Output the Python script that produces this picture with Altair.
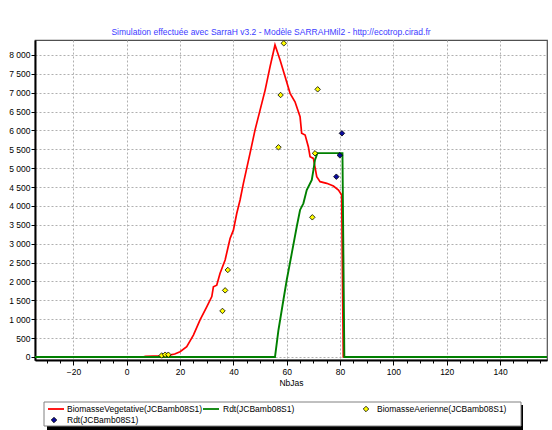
import altair as alt
import pandas as pd

# ---------------- data ----------------
title_text = "Simulation effectuée avec SarraH v3.2 - Modèle SARRAHMil2 - http://ecotrop.cirad.fr"
x_title = "NbJas"

veg_day = [-35, 6, 7, 10, 13, 16, 18, 20, 22.5, 25, 27.5, 30, 31.9, 32.5, 33.75, 35, 36.9,
           38.75, 40, 41.25, 42.5, 43.75, 46.25, 48.1, 50, 51.9, 53.75, 55.6, 57.5, 59.4,
           61.25, 63.1, 65, 65.6, 66.9, 68.1, 68.75, 70, 71.25, 72.5, 75, 77.5, 79.4, 80.6,
           81.2, 158]
veg_val = [0, 0, 20, 25, 30, 50, 80, 140, 270, 580, 980, 1330, 1600, 1860, 1900, 2220, 2570,
           3140, 3360, 3800, 4160, 4600, 5400, 6010, 6540, 7070, 7690, 8265, 7870, 7425,
           6985, 6760, 6365, 5925, 5880, 5570, 5306, 5260, 4776, 4645, 4600, 4530, 4420, 4290,
           0, 0]

rdt_day = [-35, 55.6, 56.9, 58.75, 60, 61.9, 63.75, 65, 66.25, 67.5, 69.4, 70, 70.6, 71.5,
           80.9, 81.6, 158]
rdt_val = [0, 0, 715, 1510, 2040, 2750, 3450, 3895, 4070, 4420, 4690, 4950, 5220, 5400,
           5400, 0, 0]

aer_day = [13.1, 14.4, 15.6, 35.9, 36.9, 37.9, 56.9, 57.7, 58.9, 69.6, 70.6, 71.6]
aer_val = [40, 60, 60, 1220, 1765, 2305, 5555, 6940, 8310, 3700, 5395, 7090]

obs_day = [78.6, 79.9, 80.7]
obs_val = [4776, 5343, 5925]

legend_labels = ["BiomasseVegetative(JCBamb08S1)", "Rdt(JCBamb08S1)",
                 "BiomasseAerienne(JCBamb08S1)", "Rdt(JCBamb08S1)"]

x_ticks = list(range(-30, 156, 5))
y_ticks = list(range(0, 8001, 500))
X_DOM = [-34.4, 157.6]
Y_DOM = [-80, 8397]

# ---------------- style ----------------
FONT = "Liberation Sans"
W, H = 512, 320
RED = "#ff0000"
GREEN = "#008000"
YELLOW = "#ffff00"
BLUE = "#0a0aa0"

veg_df = pd.DataFrame({"day": veg_day, "val": veg_val})
rdt_df = pd.DataFrame({"day": rdt_day, "val": rdt_val})
aer_df = pd.DataFrame({"day": aer_day, "val": aer_val})
obs_df = pd.DataFrame({"day": obs_day, "val": obs_val})

xscale = alt.Scale(domain=X_DOM, nice=False, zero=False)
yscale = alt.Scale(domain=Y_DOM, nice=False, zero=False)

major = "abs(datum.value) % 20 < 0.001"
xaxis = alt.Axis(
    values=x_ticks, title=x_title, format="d",
    labelExpr=f"({major}) ? format(datum.value, 'd') : ''", labelOverlap=False,
    labelFlush=False,
    grid=True,
    gridOpacity={"condition": {"test": major, "value": 1}, "value": 0},
    gridDash=[2, 2], gridColor="#b0b0b0", gridWidth=1,
    tickSize={"condition": {"test": major, "value": 5}, "value": 3},
    tickColor="#000", domainColor="#000", domainWidth=2,
    labelFont=FONT, labelFontSize=8.5, labelColor="#000", labelPadding=2,
    titleFont=FONT, titleFontSize=8.5, titleFontWeight="normal", titleColor="#000",
    titlePadding=3,
)
yaxis = alt.Axis(
    values=y_ticks, title=None,
    labelExpr="replace(format(datum.value, ','), ',', ' ')",
    labelOverlap=False, labelFlush=False,
    grid=True, gridDash=[2, 2], gridColor="#b0b0b0", gridWidth=1,
    tickSize=4, tickColor="#000", domainColor="#000", domainWidth=2,
    labelFont=FONT, labelFontSize=8.5, labelColor="#000", labelPadding=1,
)

X = alt.X("day:Q", scale=xscale, axis=xaxis)
Y = alt.Y("val:Q", scale=yscale, axis=yaxis)

veg = alt.Chart(veg_df).mark_line(color=RED, strokeWidth=1.7, clip=True).encode(x=X, y=Y)
rdt = alt.Chart(rdt_df).mark_line(color=GREEN, strokeWidth=1.9, clip=True).encode(x=X, y=Y)
aer = alt.Chart(aer_df).mark_point(shape="diamond", filled=True, fill=YELLOW, stroke="#000",
                                   strokeWidth=0.8, size=30, opacity=1).encode(x=X, y=Y)
obs = alt.Chart(obs_df).mark_point(shape="diamond", filled=True, fill=BLUE, stroke="#000",
                                   strokeWidth=0.8, size=30, opacity=1).encode(x=X, y=Y)

one = pd.DataFrame({"k": [0]})

# title (pixel offsets relative to plot origin)
title = alt.Chart(one).mark_text(text=title_text, font=FONT, fontSize=8.5, color="#3c3cff",
                                  align="center", baseline="middle").encode(
    x=alt.value(236), y=alt.value(-8))

# legend box
shadow = alt.Chart(one).mark_rect(color="#000").encode(
    x=alt.value(12), x2=alt.value(488), y=alt.value(365), y2=alt.value(390))
box = alt.Chart(one).mark_rect(fill="#fff", stroke="#808080", strokeWidth=1).encode(
    x=alt.value(9), x2=alt.value(486), y=alt.value(362), y2=alt.value(386))

def leg_line(x1, x2, y, color):
    return alt.Chart(one).mark_rule(color=color, strokeWidth=1.8).encode(
        x=alt.value(x1), x2=alt.value(x2), y=alt.value(y))

def leg_diamond(x, y, color):
    return alt.Chart(one).mark_point(shape="diamond", filled=True, fill=color, stroke="#000",
                                     strokeWidth=0.8, size=30, opacity=1).encode(
        x=alt.value(x), y=alt.value(y))

def leg_text(x, y, label):
    return alt.Chart(one).mark_text(text=label, font=FONT, fontSize=8.5, color="#000",
                                     align="left", baseline="middle").encode(
        x=alt.value(x), y=alt.value(y))

R1, R2 = 369, 380
legend_layers = [
    shadow, box,
    leg_line(13, 29, R1, RED), leg_text(32, R1, legend_labels[0]),
    leg_line(168, 184, R1, GREEN), leg_text(188, R1, legend_labels[1]),
    leg_diamond(331, R1, YELLOW), leg_text(342, R1, legend_labels[2]),
    leg_diamond(19, R2, BLUE), leg_text(32, R2, legend_labels[3]),
]

chart = alt.layer(veg, rdt, aer, obs, title, *legend_layers).properties(
    width=W, height=H,
    padding={"left": 35, "top": 40, "right": 5, "bottom": 70},
    autosize=alt.AutoSizeParams(type="none"),
    background="#ffffff",
).configure_view(stroke="#505050", strokeWidth=1.2)

chart.save("out.html", embed_options={"renderer": "svg", "actions": False})
